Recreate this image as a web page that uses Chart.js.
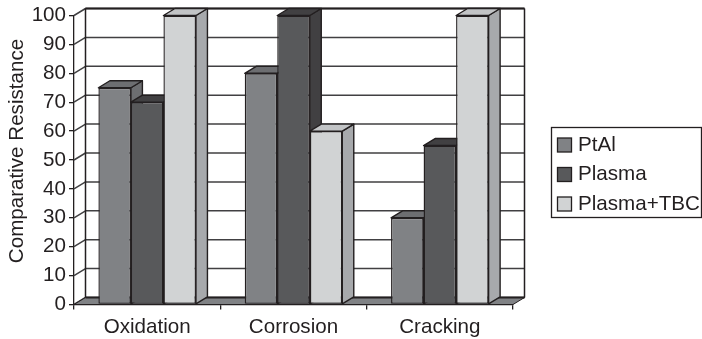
<!DOCTYPE html>
<html>
<head>
<meta charset="utf-8">
<style>
  html, body { margin: 0; padding: 0; background: #fff; }
  #wrap { position: relative; width: 702px; height: 339px; }
</style>
<script src="https://cdn.jsdelivr.net/npm/chart.js@4/dist/chart.umd.min.js"></script>
</head>
<body>
<div id="wrap"><canvas id="chart" width="702" height="339"></canvas></div>
<script>
const categories = ['Oxidation', 'Corrosion', 'Cracking'];
const seriesNames = ['PtAl', 'Plasma', 'Plasma+TBC'];
const ptalValues = [75, 80, 30];
const plasmaValues = [70, 100, 55];
const tbcValues = [100, 60, 100];
const yTicks = [0, 10, 20, 30, 40, 50, 60, 70, 80, 90, 100];
const yTitle = 'Comparative Resistance';

const frontColors = ['#808285', '#58595b', '#d1d3d4'];
const topColors = ['#6d6e71', '#414042', '#c2c4c6'];
const sideColors = ['#6d6e71', '#414042', '#a7a9ac'];
const INK = '#231f20';
const FONT = '"Liberation Sans", Arial, sans-serif';
const FONT_SIZE = 20.6;

// 3D offset of the back wall
const DX = 11.5;
const DY = -7;

function poly(ctx, pts, fill) {
    ctx.beginPath();
    pts.forEach((p, i) => i ? ctx.lineTo(p[0], p[1]) : ctx.moveTo(p[0], p[1]));
    ctx.closePath();
    if (fill) {
        ctx.fillStyle = fill;
        ctx.fill();
    }
    ctx.stroke();
}

const depthPlugin = {
    id: 'depth',
    beforeDatasetsDraw(chart) {
        const { ctx, chartArea: a, scales } = chart;
        const y = scales.y;
        ctx.save();
        ctx.strokeStyle = INK;
        ctx.lineJoin = 'round';

        // gridlines on the side and back walls
        ctx.lineWidth = 1.5;
        ctx.strokeStyle = '#414042';
        yTicks.forEach(v => {
            const py = y.getPixelForValue(v);
            ctx.beginPath();
            ctx.moveTo(a.left, py);
            ctx.lineTo(a.left + DX, py + DY);
            ctx.lineTo(a.right + DX, py + DY);
            ctx.stroke();
        });

        // wall frame
        ctx.strokeStyle = INK;
        ctx.lineWidth = 1.5;
        const top = y.getPixelForValue(100) + DY;
        const floor = y.getPixelForValue(0) + DY;
        ctx.beginPath();
        ctx.moveTo(a.left + DX, floor);
        ctx.lineTo(a.left + DX, top);
        ctx.moveTo(a.right + DX, top);
        ctx.lineTo(a.right + DX, floor);
        ctx.stroke();
        ctx.lineWidth = 2;
        ctx.beginPath();
        ctx.moveTo(a.left + DX, top);
        ctx.lineTo(a.right + DX, top);
        ctx.stroke();

        // floor
        ctx.lineWidth = 1;
        poly(ctx, [[a.left, a.bottom], [a.left + DX, floor], [a.right + DX, floor], [a.right, a.bottom]], '#808285');
        ctx.lineWidth = 2;
        ctx.beginPath();
        ctx.moveTo(a.left + DX, floor);
        ctx.lineTo(a.right + DX, floor);
        ctx.stroke();

        // bars, left to right so each front covers the previous side
        categories.forEach((c, i) => {
            seriesNames.forEach((s, d) => {
                const el = chart.getDatasetMeta(d).data[i];
                const l = el.x - el.width / 2;
                const r = el.x + el.width / 2;
                ctx.lineWidth = 1.4;
                poly(ctx, [[r, el.y], [r + DX, el.y + DY], [r + DX, el.base + DY], [r, el.base]], sideColors[d]);
                poly(ctx, [[l, el.y], [l + DX, el.y + DY], [r + DX, el.y + DY], [r, el.y]], topColors[d]);
                el.draw(ctx);
            });
        });
        ctx.restore();
        return false;
    },
    afterDraw(chart) {
        const ctx = chart.ctx;
        ctx.save();
        ctx.strokeStyle = INK;
        ctx.lineWidth = 1.3;
        ctx.strokeRect(551.5, 127.5, 150, 90);
        ctx.font = FONT_SIZE + 'px ' + FONT;
        ctx.textBaseline = 'middle';
        ctx.textAlign = 'left';
        seriesNames.forEach((s, d) => {
            const cy = 145 + d * 29.5;
            ctx.fillStyle = frontColors[d];
            ctx.fillRect(557.5, cy - 7, 14, 14);
            ctx.strokeRect(557.5, cy - 7, 14, 14);
            ctx.fillStyle = INK;
            ctx.fillText(s, 578, cy);
        });

        // axis title sits above the plot centre in the original
        ctx.translate(22.5, 151);
        ctx.rotate(-Math.PI / 2);
        ctx.textAlign = 'center';
        ctx.textBaseline = 'alphabetic';
        ctx.fillText(yTitle, 0, 0);
        ctx.restore();
    }
};

function barDataset(label, data, d) {
    return {
        label: label,
        data: data,
        backgroundColor: frontColors[d],
        borderColor: INK,
        borderWidth: 1.4,
        borderSkipped: false,
        categoryPercentage: 2 / 3,
        barPercentage: 1
    };
}

new Chart(document.getElementById('chart'), {
    type: 'bar',
    data: {
        labels: categories,
        datasets: [
            barDataset(seriesNames[0], ptalValues, 0),
            barDataset(seriesNames[1], plasmaValues, 1),
            barDataset(seriesNames[2], tbcValues, 2)
        ]
    },
    options: {
        responsive: false,
        animation: false,
        layout: { padding: { left: 0, right: 189, top: 15.5, bottom: 0 } },
        plugins: {
            legend: { display: false },
            tooltip: { enabled: false }
        },
        scales: {
            x: {
                afterFit(scale) { scale.height = 34.5; },
                grid: { drawOnChartArea: false, color: INK, lineWidth: 1.3, tickLength: 5, offset: true },
                border: { color: INK, width: 1.3 },
                ticks: { color: INK, font: { family: FONT, size: FONT_SIZE }, padding: 5, maxRotation: 0 }
            },
            y: {
                min: 0,
                max: 100,
                afterFit(scale) { scale.width = 74; },
                afterBuildTicks(scale) { scale.ticks = yTicks.map(v => ({ value: v })); },
                grid: { drawOnChartArea: false, color: INK, lineWidth: 1.3, tickLength: 5 },
                border: { color: INK, width: 1.3 },
                ticks: { color: INK, font: { family: FONT, size: FONT_SIZE }, padding: 3 }
            }
        }
    },
    plugins: [depthPlugin]
});
</script>
</body>
</html>
